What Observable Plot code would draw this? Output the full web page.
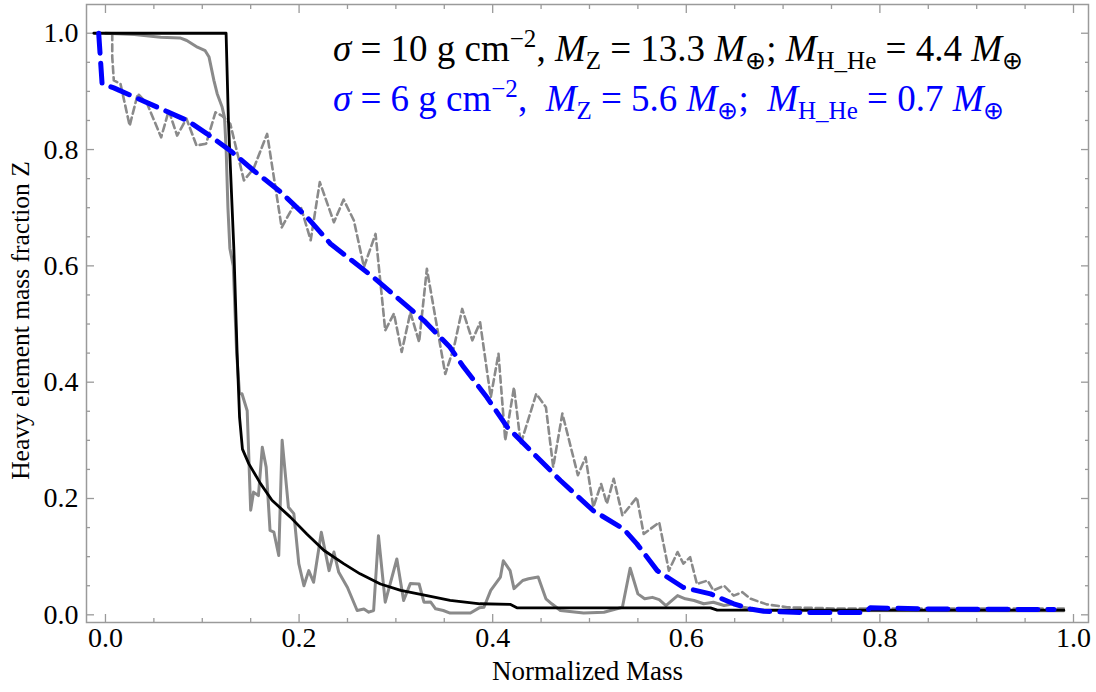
<!DOCTYPE html>
<html>
<head>
<meta charset="utf-8">
<script src="https://cdn.jsdelivr.net/npm/d3@7"></script>
<script src="https://cdn.jsdelivr.net/npm/@observablehq/plot@0.6"></script>
<style>
  html, body { margin: 0; padding: 0; background: white; }
</style>
</head>
<body>
<div id="chart"></div>
<script>
// ---- Data ----
// σ = 10 g cm^-2 : smoothed profile (black solid)
const black10X = [-0.012, 0.1246, 0.127, 0.1326, 0.136, 0.1385, 0.1415, 0.148, 0.160, 0.172, 0.191, 0.208, 0.2255, 0.246, 0.263, 0.284, 0.305, 0.332, 0.356, 0.387, 0.418, 0.425, 0.625, 0.632, 0.99];
const black10Y = [1.0, 1.0, 0.85, 0.63, 0.45, 0.34, 0.285, 0.26, 0.226, 0.197, 0.168, 0.139, 0.111, 0.088, 0.0705, 0.053, 0.042, 0.033, 0.025, 0.019, 0.018, 0.012, 0.012, 0.008, 0.008];

// σ = 10 g cm^-2 : raw profile (gray solid)
const gray10X = [0.0, 0.03, 0.057, 0.077, 0.084, 0.095, 0.103, 0.107, 0.112, 0.1154, 0.1205, 0.123, 0.1247, 0.1265, 0.1285, 0.132, 0.1355, 0.1385, 0.141, 0.1464, 0.150, 0.153, 0.158, 0.162, 0.166, 0.170, 0.174, 0.179, 0.1825, 0.189, 0.1946, 0.1997, 0.205, 0.210, 0.215, 0.223, 0.231, 0.236, 0.241, 0.250, 0.260, 0.267, 0.272, 0.277, 0.282, 0.289, 0.301, 0.308, 0.315, 0.324, 0.329, 0.336, 0.341, 0.349, 0.356, 0.377, 0.386, 0.391, 0.398, 0.408, 0.411, 0.418, 0.422, 0.431, 0.437, 0.447, 0.455, 0.461, 0.470, 0.494, 0.515, 0.534, 0.542, 0.550, 0.557, 0.565, 0.572, 0.579, 0.591, 0.599, 0.608, 0.618, 0.628, 0.639, 0.649, 0.659, 0.677, 0.99];
const gray10Y = [1.0, 0.998, 0.993, 0.992, 0.9875, 0.976, 0.970, 0.959, 0.919, 0.896, 0.873, 0.855, 0.798, 0.70, 0.63, 0.60, 0.45, 0.38, 0.38, 0.351, 0.18, 0.211, 0.205, 0.288, 0.254, 0.145, 0.142, 0.102, 0.30, 0.185, 0.174, 0.088, 0.050, 0.076, 0.056, 0.142, 0.076, 0.108, 0.073, 0.047, 0.0074, 0.010, 0.0045, 0.0074, 0.136, 0.0217, 0.096, 0.0246, 0.054, 0.053, 0.0217, 0.022, 0.0103, 0.0074, 0.003, 0.003, 0.012, 0.013, 0.042, 0.065, 0.093, 0.076, 0.045, 0.059, 0.062, 0.065, 0.0275, 0.019, 0.0074, 0.003, 0.0045, 0.013, 0.08, 0.036, 0.0275, 0.030, 0.026, 0.016, 0.033, 0.0275, 0.0246, 0.019, 0.0217, 0.016, 0.019, 0.013, 0.0074, 0.007];

// σ = 6 g cm^-2 : smoothed profile (blue dashed)
const blue6X = [-0.007, -0.0035, 0.0086, 0.0344, 0.0844, 0.105, 0.129, 0.153, 0.181, 0.208, 0.2324, 0.277, 0.329, 0.356, 0.370, 0.394, 0.408, 0.415, 0.446, 0.470, 0.504, 0.535, 0.549, 0.570, 0.597, 0.625, 0.649, 0.666, 0.68, 0.72, 0.785, 0.79, 0.855, 0.98];
const blue6Y = [1.0, 0.913, 0.906, 0.887, 0.850, 0.827, 0.798, 0.764, 0.727, 0.684, 0.638, 0.580, 0.506, 0.460, 0.426, 0.374, 0.340, 0.323, 0.271, 0.231, 0.179, 0.148, 0.122, 0.076, 0.047, 0.036, 0.019, 0.010, 0.006, 0.004, 0.004, 0.012, 0.010, 0.009];

// σ = 6 g cm^-2 : raw profile (gray dashed)
const gray6X = [0.007, 0.007, 0.0086, 0.0155, 0.025, 0.0334, 0.043, 0.0575, 0.0654, 0.074, 0.0837, 0.094, 0.104, 0.1136, 0.1205, 0.129, 0.143, 0.153, 0.167, 0.182, 0.1946, 0.202, 0.212, 0.2214, 0.236, 0.246, 0.2566, 0.267, 0.279, 0.289, 0.298, 0.306, 0.315, 0.324, 0.332, 0.351, 0.360, 0.3685, 0.379, 0.387, 0.398, 0.406, 0.413, 0.422, 0.429, 0.445, 0.455, 0.4625, 0.472, 0.488, 0.496, 0.504, 0.512, 0.518, 0.525, 0.534, 0.549, 0.556, 0.572, 0.582, 0.591, 0.597, 0.604, 0.611, 0.622, 0.628, 0.639, 0.649, 0.658, 0.666, 0.683, 0.704, 0.752, 0.99];
const gray6Y = [1.0, 0.959, 0.919, 0.913, 0.841, 0.896, 0.879, 0.821, 0.867, 0.824, 0.853, 0.807, 0.810, 0.864, 0.858, 0.844, 0.747, 0.767, 0.827, 0.666, 0.704, 0.70, 0.644, 0.744, 0.675, 0.714, 0.678, 0.598, 0.655, 0.489, 0.518, 0.452, 0.520, 0.469, 0.595, 0.414, 0.460, 0.526, 0.472, 0.503, 0.374, 0.449, 0.30, 0.391, 0.294, 0.380, 0.357, 0.254, 0.346, 0.24, 0.271, 0.185, 0.225, 0.191, 0.234, 0.171, 0.202, 0.139, 0.159, 0.076, 0.108, 0.088, 0.099, 0.053, 0.059, 0.042, 0.050, 0.033, 0.039, 0.028, 0.018, 0.013, 0.011, 0.011];

// Axis ticks
const majorTicksX = [0, 0.2, 0.4, 0.6, 0.8, 1.0];
const minorTicksX = d3.range(0, 1.0001, 0.05).filter((_, i) => i % 4 !== 0);
const majorTicksY = [0, 0.2, 0.4, 0.6, 0.8, 1.0];
const minorTicksY = d3.range(0, 1.0001, 0.05).filter((_, i) => i % 4 !== 0);

const xTitle = "Normalized Mass";
const yTitle = "Heavy element mass fraction Z";

// Annotation labels: [text, style]
const label10 = [["σ", "i"], [" = 10 g cm", ""], ["−2", "sup"], [", ", ""], ["M", "i"], ["Z", "sub"], [" = 13.3 ", ""], ["M", "i"], ["⊕", "sub"], ["; ", ""], ["M", "i"], ["H_He", "sub"], [" = 4.4 ", ""], ["M", "i"], ["⊕", "sub"]];
const label6 = [["σ", "i"], [" = 6 g cm", ""], ["−2", "sup"], [",  ", ""], ["M", "i"], ["Z", "sub"], [" = 5.6 ", ""], ["M", "i"], ["⊕", "sub"], [";  ", ""], ["M", "i"], ["H_He", "sub"], [" = 0.7 ", ""], ["M", "i"], ["⊕", "sub"]];
const labelPos = [{x: 0.2355, y: 0.952, color: "black", parts: label10}, {x: 0.2355, y: 0.866, color: "#0000ff", parts: label6}];

const toRows = (xs, ys) => xs.map((x, i) => ({x, y: ys[i]}));

const frameColor = "#9a9a9a";

const chart = Plot.plot({
  width: 1096,
  height: 692,
  marginLeft: 86,
  marginRight: 8,
  marginTop: 4,
  marginBottom: 70,
  x: {domain: [-0.0196, 1.0155]},
  y: {domain: [-0.0132, 1.0494]},
  style: {fontFamily: "Liberation Serif", fontSize: "28px", color: "black", background: "white"},
  marks: [
    // tick marks (inward) on all four sides
    Plot.axisX(minorTicksX, {anchor: "bottom", tickSize: -4, fill: "none", stroke: frameColor, strokeWidth: 1.3, label: null}),
    Plot.axisX(majorTicksX, {anchor: "bottom", tickSize: -8, fill: "none", stroke: frameColor, strokeWidth: 1.3, label: null}),
    Plot.axisX(minorTicksX, {anchor: "top", tickSize: -4, fill: "none", stroke: frameColor, strokeWidth: 1.3, label: null}),
    Plot.axisX(majorTicksX, {anchor: "top", tickSize: -8, fill: "none", stroke: frameColor, strokeWidth: 1.3, label: null}),
    Plot.axisY(minorTicksY, {anchor: "left", tickSize: -4, fill: "none", stroke: frameColor, strokeWidth: 1.3, label: null}),
    Plot.axisY(majorTicksY, {anchor: "left", tickSize: -8, fill: "none", stroke: frameColor, strokeWidth: 1.3, label: null}),
    Plot.axisY(minorTicksY, {anchor: "right", tickSize: -4, fill: "none", stroke: frameColor, strokeWidth: 1.3, label: null}),
    Plot.axisY(majorTicksY, {anchor: "right", tickSize: -8, fill: "none", stroke: frameColor, strokeWidth: 1.3, label: null}),
    // tick labels
    Plot.axisX(majorTicksX, {anchor: "bottom", tickSize: 0, tickPadding: 5, tickFormat: d3.format(".1f"), label: null, fill: "black"}),
    Plot.axisY(majorTicksY, {anchor: "left", tickSize: 0, tickPadding: 8, tickFormat: d3.format(".1f"), label: null, fill: "black"}),
    // axis titles
    Plot.text([xTitle], {frameAnchor: "bottom", dy: 49, text: d => d, fontSize: 27, lineAnchor: "middle", textAnchor: "middle", fill: "black"}),
    Plot.text([yTitle], {frameAnchor: "left", dx: -66, dy: 7, rotate: -90, text: d => d, fontSize: 25.5, lineAnchor: "middle", textAnchor: "middle", fill: "black"}),
    // data lines
    Plot.line(toRows(gray6X, gray6Y), {x: "x", y: "y", stroke: "#8a8a8a", strokeWidth: 2.6, strokeDasharray: "7,4"}),
    Plot.line(toRows(gray10X, gray10Y), {x: "x", y: "y", stroke: "#8a8a8a", strokeWidth: 3}),
    Plot.line(toRows(black10X, black10Y), {x: "x", y: "y", stroke: "black", strokeWidth: 2.8}),
    Plot.line(toRows(blue6X, blue6Y), {x: "x", y: "y", stroke: "#0000ff", strokeWidth: 5, strokeDasharray: "20,10"}),
    Plot.frame({stroke: frameColor, strokeWidth: 1.5})
  ]
});

// Annotation text with sub/superscripts
const svg = d3.select(chart);
const sx = chart.scale("x"), sy = chart.scale("y");
const baseSize = 37, smallSize = 25;
for (const lab of labelPos) {
  const t = svg.append("text")
    .attr("x", sx.apply(lab.x))
    .attr("y", sy.apply(lab.y))
    .attr("fill", lab.color)
    .attr("text-anchor", "start")
    .attr("font-family", "Liberation Serif")
    .attr("font-size", baseSize)
    .style("white-space", "pre");
  let offset = 0;
  for (const [str, kind] of lab.parts) {
    const target = kind === "sup" ? -14 : kind === "sub" ? 8 : 0;
    const ts = t.append("tspan").text(str).attr("dy", target - offset);
    offset = target;
    if (kind === "i") ts.attr("font-style", "italic");
    if (kind === "sup" || kind === "sub") ts.attr("font-size", smallSize);
  }
}

document.getElementById("chart").appendChild(chart);
</script>
</body>
</html>
